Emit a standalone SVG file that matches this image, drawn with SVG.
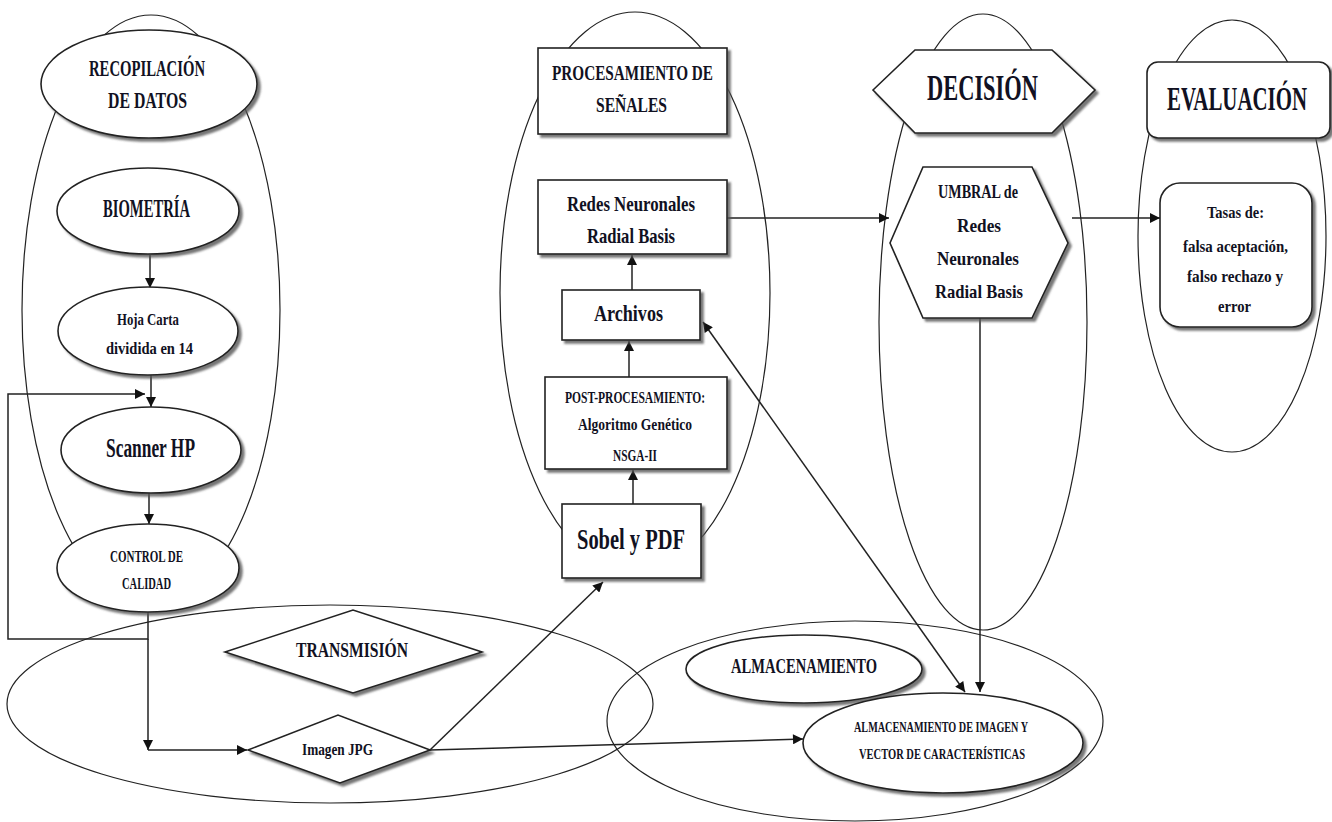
<svg xmlns="http://www.w3.org/2000/svg" width="1332" height="822" viewBox="0 0 1332 822">
<style>
.grp{fill:none;stroke:#222;stroke-width:1.2}
.nd{fill:#fff;stroke:#222;stroke-width:1.6;filter:url(#sh)}
.c{fill:none;stroke:#222;stroke-width:1.5}
text{font-family:"Liberation Serif","DejaVu Serif",serif;font-weight:bold;fill:#111122;text-anchor:middle}
</style>
<defs>
<filter id="sh" x="-10%" y="-10%" width="125%" height="130%">
<feDropShadow dx="3" dy="3" stdDeviation="1" flood-color="#555" flood-opacity="0.8"/>
</filter>
<marker id="ar" viewBox="0 0 10 10" refX="10" refY="5" markerWidth="11" markerHeight="10" markerUnits="userSpaceOnUse" orient="auto-start-reverse">
<path d="M0,0 L10,5 L0,10 Z" fill="#111"/>
</marker>
</defs>
<rect width="1332" height="822" fill="#fff"/>
<g id="groups">
<ellipse class="grp" cx="151" cy="310" rx="129" ry="295"/>
<ellipse class="grp" cx="635" cy="293" rx="135" ry="281"/>
<ellipse class="grp" cx="983" cy="322" rx="104" ry="308"/>
<ellipse class="grp" cx="1232" cy="236" rx="94" ry="216"/>
<ellipse class="grp" cx="330" cy="704" rx="323" ry="99"/>
<ellipse class="grp" cx="855" cy="721" rx="248" ry="100"/>
</g>
<g id="connectors">
<path class="c" d="M150,255 L150,288" marker-end="url(#ar)"/>
<path class="c" d="M151,375 L151,407" marker-end="url(#ar)"/>
<path class="c" d="M149,493 L149,524" marker-end="url(#ar)"/>
<path class="c" d="M148,612 L148,639 L8,639 L8,394 L145,394" marker-end="url(#ar)"/>
<path class="c" d="M148,639 L148,750" marker-end="url(#ar)"/>
<path class="c" d="M148,750 L247,750" marker-end="url(#ar)"/>
<path class="c" d="M430,750 L603,582" marker-end="url(#ar)"/>
<path class="c" d="M430,750 L803,739" marker-end="url(#ar)"/>
<path class="c" d="M633,504 L633,470" marker-end="url(#ar)"/>
<path class="c" d="M629,377 L629,341" marker-end="url(#ar)"/>
<path class="c" d="M632,290 L632,255" marker-end="url(#ar)"/>
<path class="c" d="M727,218 L889,218" marker-end="url(#ar)"/>
<path class="c" d="M1072,218 L1160,218" marker-end="url(#ar)"/>
<path class="c" d="M980,318 L980,692" marker-end="url(#ar)"/>
<path class="c" d="M703,322 L965,692" marker-start="url(#ar)" marker-end="url(#ar)"/>
</g>
<g id="recopilacion">
<ellipse class="nd" cx="149" cy="84" rx="108" ry="54"/>
<text x="147" y="76" font-size="23" textLength="116" lengthAdjust="spacingAndGlyphs">RECOPILACIÓN</text>
<text x="147.5" y="108" font-size="23" textLength="79" lengthAdjust="spacingAndGlyphs">DE DATOS</text>
</g>
<g id="biometria">
<ellipse class="nd" cx="148" cy="211" rx="91" ry="43"/>
<text x="146.5" y="217" font-size="25" textLength="87" lengthAdjust="spacingAndGlyphs">BIOMETRÍA</text>
</g>
<g id="hoja">
<ellipse class="nd" cx="148" cy="331" rx="90" ry="44"/>
<text x="148" y="325" font-size="17" textLength="62" lengthAdjust="spacingAndGlyphs">Hoja Carta</text>
<text x="149.5" y="354" font-size="17" textLength="87" lengthAdjust="spacingAndGlyphs">dividida en 14</text>
</g>
<g id="scanner">
<ellipse class="nd" cx="151" cy="450" rx="90" ry="43"/>
<text x="150.5" y="457" font-size="27" textLength="89" lengthAdjust="spacingAndGlyphs">Scanner HP</text>
</g>
<g id="control">
<ellipse class="nd" cx="148" cy="568" rx="91" ry="44"/>
<text x="146.5" y="562" font-size="16" textLength="73" lengthAdjust="spacingAndGlyphs">CONTROL DE</text>
<text x="146.5" y="589" font-size="16" textLength="49" lengthAdjust="spacingAndGlyphs">CALIDAD</text>
</g>
<g id="procesamiento">
<rect class="nd" x="538" y="48" width="189" height="86"/>
<text x="632.5" y="80" font-size="22" textLength="161" lengthAdjust="spacingAndGlyphs">PROCESAMIENTO DE</text>
<text x="631.5" y="112" font-size="22" textLength="71" lengthAdjust="spacingAndGlyphs">SEÑALES</text>
</g>
<g id="redes">
<rect class="nd" x="538" y="180" width="189" height="74"/>
<text x="631" y="211" font-size="22" textLength="128" lengthAdjust="spacingAndGlyphs">Redes Neuronales</text>
<text x="631" y="243" font-size="22" textLength="88" lengthAdjust="spacingAndGlyphs">Radial Basis</text>
</g>
<g id="archivos">
<rect class="nd" x="562" y="290" width="138" height="50"/>
<text x="628.5" y="321" font-size="23" textLength="69" lengthAdjust="spacingAndGlyphs">Archivos</text>
</g>
<g id="post">
<rect class="nd" x="545" y="377" width="182" height="92"/>
<text x="635" y="403" font-size="16" textLength="140" lengthAdjust="spacingAndGlyphs">POST-PROCESAMIENTO:</text>
<text x="635" y="430" font-size="16" textLength="114" lengthAdjust="spacingAndGlyphs">Algoritmo Genético</text>
<text x="635" y="461" font-size="16" textLength="44" lengthAdjust="spacingAndGlyphs">NSGA-II</text>
</g>
<g id="sobel">
<rect class="nd" x="562" y="504" width="139" height="74"/>
<text x="631" y="549" font-size="29" textLength="108" lengthAdjust="spacingAndGlyphs">Sobel y PDF</text>
</g>
<g id="decision">
<polygon class="nd" points="873,90 915,50 1052,50 1095,90 1052,133 915,133"/>
<text x="982.5" y="100" font-size="36" textLength="111" lengthAdjust="spacingAndGlyphs">DECISIÓN</text>
</g>
<g id="umbral">
<polygon class="nd" points="890,243 923,167 1032,167 1068,243 1032,318 923,318"/>
<text x="978" y="198" font-size="19" textLength="80" lengthAdjust="spacingAndGlyphs">UMBRAL de</text>
<text x="979" y="232" font-size="19" textLength="44" lengthAdjust="spacingAndGlyphs">Redes</text>
<text x="978" y="265" font-size="19" textLength="82" lengthAdjust="spacingAndGlyphs">Neuronales</text>
<text x="979" y="298" font-size="19" textLength="88" lengthAdjust="spacingAndGlyphs">Radial Basis</text>
</g>
<g id="evaluacion">
<rect class="nd" x="1147" y="62" width="183" height="76" rx="11"/>
<text x="1237" y="110" font-size="33" textLength="140" lengthAdjust="spacingAndGlyphs">EVALUACIÓN</text>
</g>
<g id="tasas">
<rect class="nd" x="1160" y="183" width="152" height="144" rx="20"/>
<text x="1235.5" y="218" font-size="17" textLength="57" lengthAdjust="spacingAndGlyphs">Tasas de:</text>
<text x="1235.5" y="252" font-size="17" textLength="105" lengthAdjust="spacingAndGlyphs">falsa aceptación,</text>
<text x="1235" y="282" font-size="17" textLength="96" lengthAdjust="spacingAndGlyphs">falso rechazo y</text>
<text x="1234.5" y="312" font-size="17" textLength="33" lengthAdjust="spacingAndGlyphs">error</text>
</g>
<g id="transmision">
<polygon class="nd" points="225,652 353,610 482,652 353,693"/>
<text x="352" y="657" font-size="21" textLength="112" lengthAdjust="spacingAndGlyphs">TRANSMISIÓN</text>
</g>
<g id="imagen">
<polygon class="nd" points="248,750 338,715 430,750 340,783"/>
<text x="337.5" y="755" font-size="16" textLength="71" lengthAdjust="spacingAndGlyphs">Imagen JPG</text>
</g>
<g id="almacenamiento">
<ellipse class="nd" cx="804" cy="669" rx="118" ry="34"/>
<text x="804" y="673" font-size="22" textLength="146" lengthAdjust="spacingAndGlyphs">ALMACENAMIENTO</text>
</g>
<g id="almac-imagen">
<ellipse class="nd" cx="943" cy="743" rx="140" ry="50"/>
<text x="941" y="732" font-size="15" textLength="174" lengthAdjust="spacingAndGlyphs">ALMACENAMIENTO DE IMAGEN Y</text>
<text x="942" y="759" font-size="15" textLength="166" lengthAdjust="spacingAndGlyphs">VECTOR DE CARACTERÍSTICAS</text>
</g>
</svg>
